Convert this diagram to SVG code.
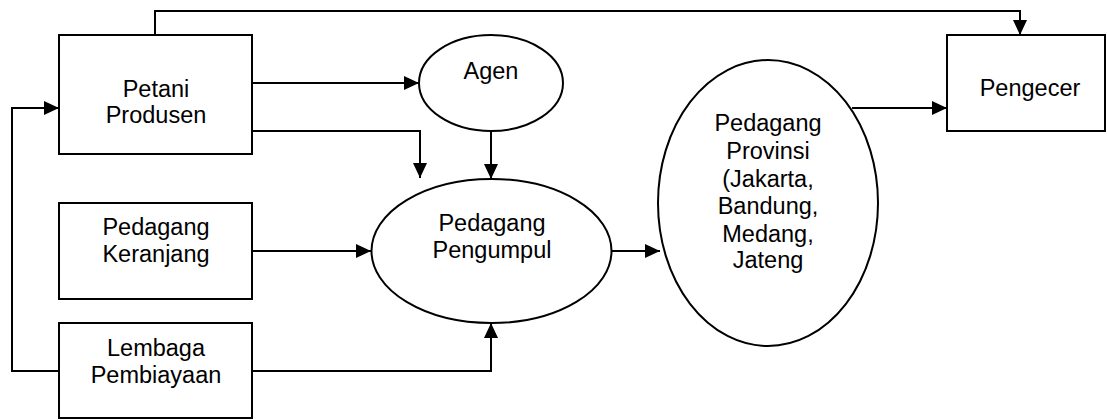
<svg xmlns="http://www.w3.org/2000/svg" width="1107" height="420" viewBox="0 0 1107 420">
<style>
.n{fill:#fff;stroke:#000;stroke-width:2}
.t{font-family:"Liberation Sans",Arial,sans-serif;font-size:23.5px;fill:#000;text-anchor:middle}
.c{fill:none;stroke:#000;stroke-width:2;marker-end:url(#ah)}
</style>
<defs>
<marker id="ah" viewBox="0 0 15 14" refX="15" refY="7" markerWidth="15" markerHeight="14" markerUnits="userSpaceOnUse" orient="auto">
<path d="M0,0 L15,7 L0,14 z" fill="#000"/>
</marker>
</defs>
<g id="connectors">
<path class="c" d="M155,35 V11 H1020 V35"/>
<path class="c" d="M59,371 H12 V108 H59"/>
<path class="c" d="M252,83 H419"/>
<path class="c" d="M252,131 H420 V178"/>
<path class="c" d="M491,131 V179"/>
<path class="c" d="M252,251 H371"/>
<path class="c" d="M252,371 H491 V323"/>
<path class="c" d="M612,251 H660"/>
<path class="c" d="M852,108 H947"/>
</g>
<g id="petani">
<rect class="n" x="59" y="35" width="193" height="119"/>
<text class="t" x="156" y="97">Petani</text>
<text class="t" x="156" y="123">Produsen</text>
</g>
<g id="agen">
<ellipse class="n" cx="491" cy="83" rx="72" ry="48"/>
<text class="t" x="491" y="79">Agen</text>
</g>
<g id="keranjang">
<rect class="n" x="59" y="203" width="193" height="96"/>
<text class="t" x="156" y="235">Pedagang</text>
<text class="t" x="156" y="262">Keranjang</text>
</g>
<g id="lembaga">
<rect class="n" x="59" y="323" width="193" height="95"/>
<text class="t" x="156" y="356">Lembaga</text>
<text class="t" x="156" y="383">Pembiayaan</text>
</g>
<g id="pengumpul">
<ellipse class="n" cx="491.5" cy="251" rx="120" ry="72"/>
<text class="t" x="492" y="231">Pedagang</text>
<text class="t" x="492" y="258">Pengumpul</text>
</g>
<g id="provinsi">
<ellipse class="n" cx="768" cy="203" rx="110" ry="143"/>
<text class="t" x="768" y="131">Pedagang</text>
<text class="t" x="768" y="159">Provinsi</text>
<text class="t" x="768" y="187">(Jakarta,</text>
<text class="t" x="768" y="214">Bandung,</text>
<text class="t" x="768" y="242">Medang,</text>
<text class="t" x="768" y="268">Jateng</text>
</g>
<g id="pengecer">
<rect class="n" x="947" y="35" width="158" height="96"/>
<text class="t" x="1030" y="96">Pengecer</text>
</g>
</svg>
